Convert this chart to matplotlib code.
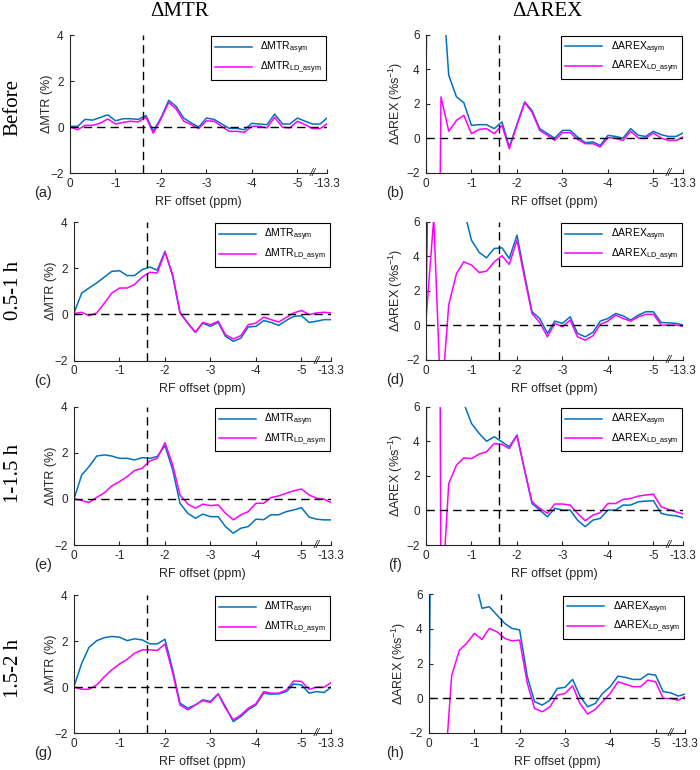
import matplotlib
matplotlib.use('Agg')
import matplotlib.pyplot as plt

plt.rcParams['font.family'] = ['Liberation Sans', 'DejaVu Sans']
plt.rcParams['mathtext.default'] = 'regular'

# ---------------- data ----------------
offsets = [0, -0.17, -0.33, -0.5, -0.67, -0.83, -1, -1.17, -1.33, -1.5, -1.67, -1.83,
           -2, -2.17, -2.33, -2.5, -2.67, -2.83, -3, -3.17, -3.33, -3.5, -3.67, -3.83,
           -4, -4.17, -4.33, -4.5, -4.67, -4.83, -5, -5.17, -5.33, -5.5, -13.3]
tick_labels = ['0', '-1', '-2', '-3', '-4', '-5', '-13.3']
row_labels = ['Before', '0.5-1 h', '1-1.5 h', '1.5-2 h']
col_titles = ['\u0394MTR', '\u0394AREX']
panel_letters = ['(a)', '(b)', '(c)', '(d)', '(e)', '(f)', '(g)', '(h)']

a_asym = [0.03, 0.03, 0.33, 0.3, 0.42, 0.53, 0.27, 0.36, 0.36, 0.33, 0.5, -0.18, 0.4, 1.16, 0.9, 0.39,
          0.17, 0.0, 0.39, 0.33, 0.14, -0.06, -0.06, -0.12, 0.16, 0.13, 0.1, 0.56, 0.13, 0.13, 0.39,
          0.25, 0.13, 0.13, 0.39]
a_ld = [0, -0.12, 0.07, 0.07, 0.17, 0.35, 0.13, 0.2, 0.25, 0.22, 0.43, -0.27, 0.35, 1.07, 0.79, 0.25,
        0.1, -0.07, 0.27, 0.25, 0.03, -0.19, -0.19, -0.23, 0.03, 0.03, -0.04, 0.42, -0.01, -0.04, 0.25,
        0.1, -0.07, -0.07, 0.14]
b_asym = [3.64, 40, 10, 3.64, 2.39, 2.06, 0.74, 0.78, 0.78, 0.55, 0.94, -0.51, 0.8, 2.1, 1.6, 0.55,
          0.26, 0.0, 0.45, 0.45, 0.07, -0.26, -0.22, -0.42, 0.16, 0.1, 0.0, 0.55, 0.16, 0.1, 0.4,
          0.2, 0.1, 0.1, 0.3]
b_ld = [0, -40, 2.39, 0.4, 1.03, 1.32, 0.26, 0.51, 0.55, 0.26, 0.74, -0.61, 0.75, 2.06, 1.5, 0.45,
        0.16, -0.13, 0.32, 0.32, -0.07, -0.32, -0.32, -0.51, 0.03, 0.0, -0.13, 0.4, 0.0, 0.0, 0.3,
        0.0, -0.13, -0.13, 0.07]
c_asym = [0.06, 0.92, 1.14, 1.36, 1.62, 1.86, 1.89, 1.68, 1.68, 1.94, 2.05, 1.91, 2.73, 1.65, 0.06,
          -0.38, -0.78, -0.38, -0.52, -0.35, -0.95, -1.17, -1.03, -0.55, -0.52, -0.27, -0.35, -0.48,
          -0.26, -0.09, -0.06, -0.35, -0.3, -0.23, -0.23]
c_ld = [0.03, 0.09, -0.06, 0.06, 0.49, 0.92, 1.14, 1.14, 1.29, 1.62, 1.82, 1.79, 2.69, 1.72, 0.09,
        -0.38, -0.78, -0.35, -0.45, -0.3, -0.88, -1.07, -0.92, -0.45, -0.38, -0.12, -0.23, -0.33,
        -0.13, 0.06, 0.17, -0.01, 0.06, 0.09, 0.06]
d_asym = [0.8, 30, 18, 12, 9, 6.7, 4.93, 4.22, 3.91, 4.45, 4.49, 3.87, 5.22, 2.9, 0.79, 0.4, -0.46,
          0.25, 0.12, 0.5, -0.46, -0.66, -0.4, 0.25, 0.4, 0.69, 0.56, 0.31, 0.6, 0.79, 0.79, 0.17,
          0.15, 0.12, 0.02]
d_ld = [0.3, 6.2, -4.7, 1.2, 3.0, 3.68, 3.49, 3.06, 3.14, 3.68, 4.03, 3.53, 4.93, 2.7, 0.69, 0.17,
        -0.66, 0.12, -0.08, 0.31, -0.66, -0.85, -0.6, 0.06, 0.25, 0.6, 0.4, 0.25, 0.5, 0.64, 0.64,
        0.02, 0.02, 0.02, -0.04]
e_asym = [0, 1.04, 1.4, 1.86, 1.91, 1.86, 1.76, 1.76, 1.69, 1.79, 1.76, 1.84, 2.31, 1.26, -0.19,
          -0.62, -0.84, -0.66, -0.77, -0.77, -1.2, -1.49, -1.27, -1.2, -0.88, -0.9, -0.69, -0.69,
          -0.55, -0.48, -0.38, -0.79, -0.88, -0.91, -0.91]
e_ld = [0, -0.07, -0.16, 0.07, 0.27, 0.56, 0.75, 0.97, 1.23, 1.33, 1.65, 1.76, 2.44, 1.47, 0.17,
        -0.22, -0.4, -0.23, -0.29, -0.26, -0.62, -0.91, -0.69, -0.55, -0.19, -0.19, 0.06, 0.13,
        0.25, 0.35, 0.43, 0.17, 0.03, -0.01, -0.16]
f_asym = [5.3, 60, 30, 15, 9, 6.2, 5.03, 4.45, 4.0, 4.26, 3.97, 3.68, 4.35, 2.3, 0.4, 0.02, -0.37,
          0.12, 0.02, 0.02, -0.56, -0.94, -0.56, -0.46, 0.02, 0.02, 0.31, 0.31, 0.5, 0.54, 0.56,
          -0.17, -0.27, -0.31, -0.42]
f_ld = [0, 100, -6, 1.56, 2.62, 3.04, 3.0, 3.26, 3.39, 3.87, 3.82, 3.58, 4.35, 2.3, 0.5, 0.12,
        -0.17, 0.37, 0.37, 0.31, -0.17, -0.6, -0.27, -0.13, 0.4, 0.4, 0.64, 0.69, 0.83, 0.89, 0.94,
        0.21, 0.06, -0.08, -0.21]
g_asym = [0.03, 1.04, 1.73, 2.02, 2.15, 2.2, 2.17, 2.02, 2.1, 2.05, 1.88, 1.88, 2.08, 0.75, -0.69,
          -0.91, -0.77, -0.55, -0.62, -0.29, -0.84, -1.49, -1.27, -0.98, -0.77, -0.26, -0.3, -0.29,
          -0.19, 0.14, 0.1, -0.26, -0.19, -0.23, 0.0]
g_ld = [0, -0.09, -0.09, 0.1, 0.46, 0.75, 1.01, 1.21, 1.47, 1.62, 1.62, 1.59, 1.88, 0.61, -0.77,
        -0.98, -0.77, -0.58, -0.66, -0.29, -0.91, -1.42, -1.2, -0.91, -0.72, -0.19, -0.26, -0.26,
        -0.12, 0.27, 0.25, -0.09, 0.0, 0.0, 0.2]
h_asym = [-0.9, 50, 30, 20, 14, 10, 7, 5.19, 5.28, 4.8, 4.32, 4.03, 3.94, 1.24, -0.21, -0.4, -0.12,
          0.56, 0.62, 1.08, 0.12, -0.5, -0.31, 0.27, 0.66, 1.27, 1.2, 1.08, 1.08, 1.39, 1.33, 0.37,
          0.31, 0.12, 0.23]
h_ld = [-0.9, -30, -5, 1.3, 2.77, 3.16, 3.74, 3.39, 4.03, 3.83, 3.45, 3.31, 3.35, 0.85, -0.6, -0.79,
        -0.5, 0.17, 0.27, 0.71, -0.31, -0.92, -0.65, -0.21, 0.27, 0.94, 0.81, 0.66, 0.66, 1.04, 0.94,
        -0.02, -0.02, -0.12, 0.08]

# ---------------- layout ----------------
W, H = 700, 770
fig = plt.figure(figsize=(7, 7.7), dpi=100)

END = 5.65      # plotted position of the -13.3 ppm point (broken axis)
BREAK = 5.33
def xpos(o):
    return -o if o >= -5.5 else END
x = [xpos(o) for o in offsets]
xticks = [0, 1, 2, 3, 4, 5, END]

BLUE = '#0072BD'
PINK = '#FF00FF'
AXC = '#262626'

rects = [(70, 327, 35, 173), (426, 683, 34.5, 172.7),
         (74, 331, 222, 360.5), (426, 683, 221.7, 360),
         (74, 331, 406.7, 545), (426, 683, 406.7, 545),
         (74, 331, 595, 733.3), (429, 685, 594.3, 732.7)]
series = [(a_asym, a_ld), (b_asym, b_ld), (c_asym, c_ld), (d_asym, d_ld),
          (e_asym, e_ld), (f_asym, f_ld), (g_asym, g_ld), (h_asym, h_ld)]

for i, ((l, r, t, b), (s1, s2)) in enumerate(zip(rects, series)):
    ax = fig.add_axes([l / W, 1 - b / H, (r - l) / W, (b - t) / H])
    is_mtr = (i % 2 == 0)
    name = 'MTR' if is_mtr else 'AREX'
    h1, = ax.plot(x, s1, color=BLUE, lw=1.1)
    h2, = ax.plot(x, s2, color=PINK, lw=1.1)
    ax.axhline(0, color='k', lw=1.0, dashes=(6, 3.6), zorder=3)
    ax.axvline(1.6, color='k', lw=1.0, dashes=(6, 3.6), zorder=3)
    ax.set_xlim(0, END)
    if is_mtr:
        ax.set_ylim(-2, 4)
        ax.set_yticks([-2, 0, 2, 4])
        ax.set_ylabel('\u0394MTR (%)', fontsize=9, color=AXC)
        ax.yaxis.set_label_coords(-0.066, 0.5)
    else:
        ax.set_ylim(-2, 6)
        ax.set_yticks([-2, 0, 2, 4, 6])
        ax.set_ylabel('\u0394AREX (%s$^{-1}$)', fontsize=9, color=AXC)
        ax.yaxis.set_label_coords(-0.082, 0.5)
    ax.set_xticks(xticks)
    ax.set_xticklabels(tick_labels)
    ax.set_xlabel('RF offset (ppm)', fontsize=9, color=AXC)
    ax.xaxis.set_label_coords(0.5, -0.165)
    for sp in ('top', 'right'):
        ax.spines[sp].set_visible(False)
    for sp in ('left', 'bottom'):
        ax.spines[sp].set_color(AXC)
        ax.spines[sp].set_linewidth(0.8)
    ax.tick_params(direction='in', length=3, width=0.8, colors=AXC, labelsize=8.5)
    ax.tick_params(axis='y', pad=4.5)
    ax.tick_params(axis='x', pad=3.5)
    ax.text(BREAK, 0.0, '//', transform=ax.get_xaxis_transform(), ha='center', va='center',
            fontsize=8, color=AXC, style='italic')
    leg = ax.legend([h1, h2], ['\u0394%s$_{asym}$' % name, '\u0394%s$_{LD\\_asym}$' % name],
                    loc='upper right', bbox_to_anchor=(0.995, 0.99), fontsize=7.5,
                    handlelength=3.6, frameon=True, fancybox=False, framealpha=1,
                    edgecolor='k', borderpad=0.35, labelspacing=0.3, handletextpad=0.8,
                    borderaxespad=0)
    leg.get_frame().set_linewidth(0.8)
    # panel letter
    lx = 43 if is_mtr else 395
    ly = b + 20
    fig.text(lx / W, 1 - ly / H, panel_letters[i], fontsize=10.5, ha='center', va='center',
             color=AXC)

# column titles
fig.text(180 / W, 1 - 12 / H, col_titles[0], fontsize=15, family='Liberation Serif',
         ha='center', va='center')
fig.text(547 / W, 1 - 12 / H, col_titles[1], fontsize=15, family='Liberation Serif',
         ha='center', va='center')

# row labels
for lab, yc in zip(row_labels, [108, 290, 473, 668]):
    fig.text(13 / W, 1 - yc / H, lab, fontsize=15, family='Liberation Serif', rotation=90,
             ha='center', va='center')

fig.savefig('out.png', dpi=100)
